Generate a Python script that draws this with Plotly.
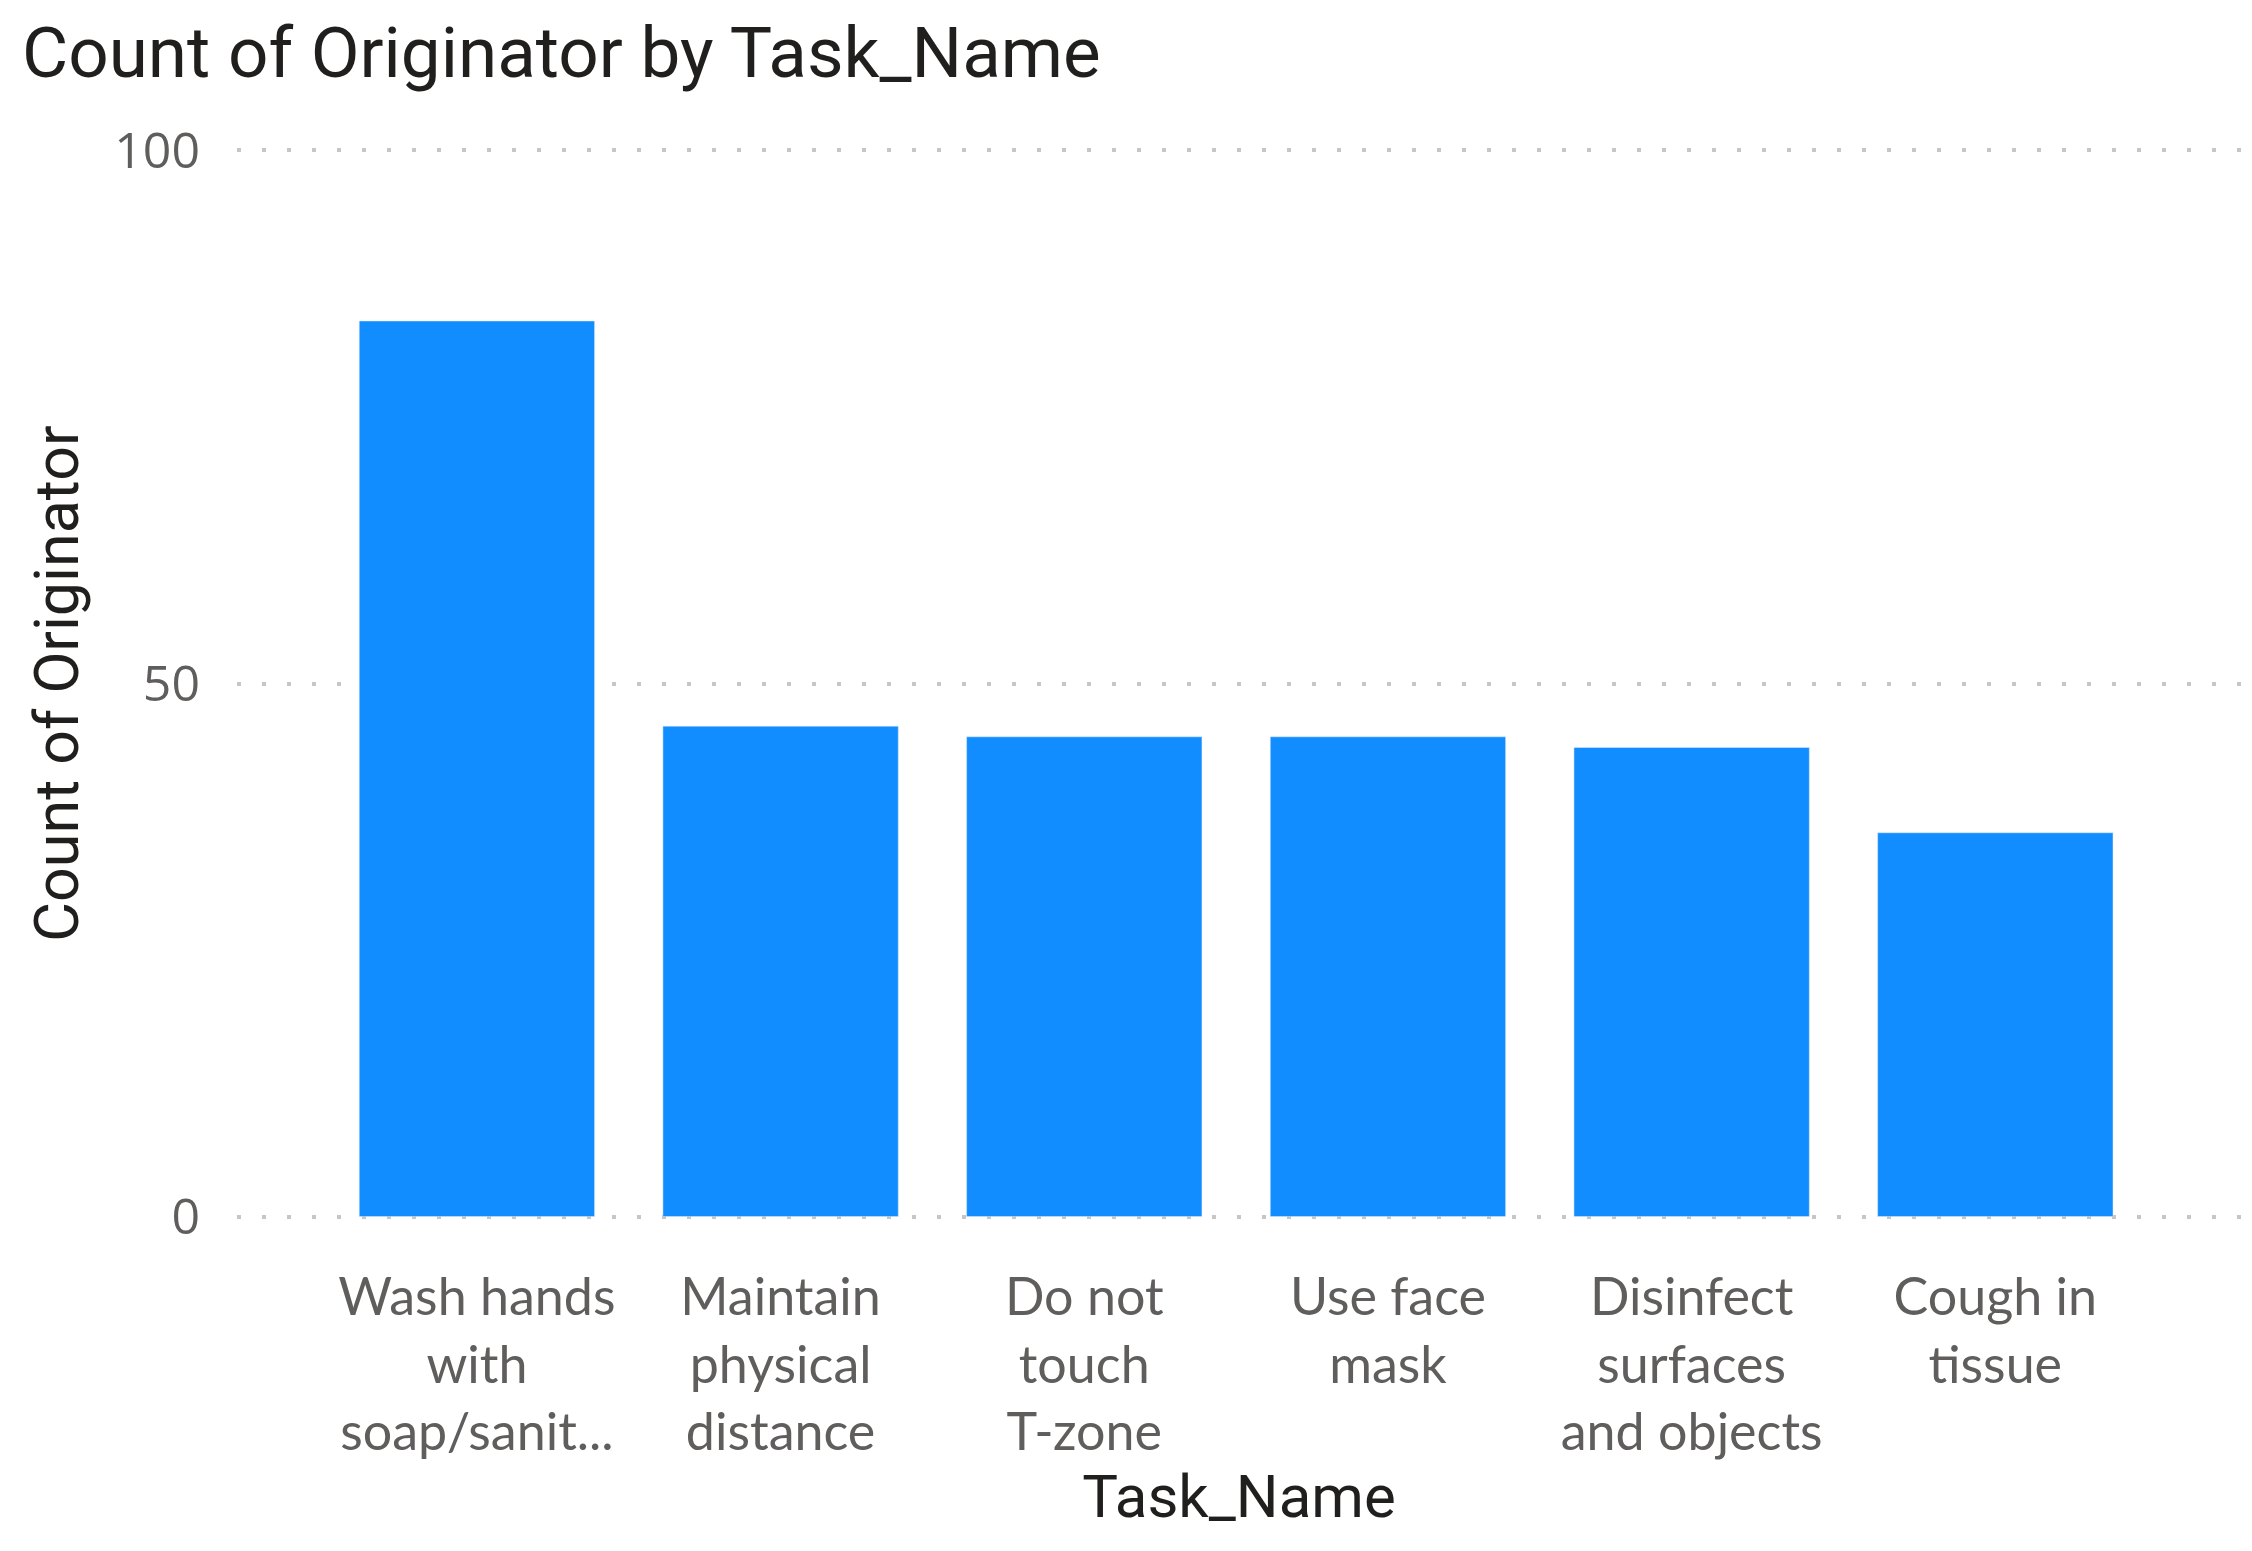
import plotly.graph_objects as go

task_names = [
    "Wash hands<br>with<br>soap/sanit...",
    "Maintain<br>physical<br>distance",
    "Do not<br>touch<br>T-zone",
    "Use face<br>mask",
    "Disinfect<br>surfaces<br>and objects",
    "Cough in<br>tissue",
]
originator_counts = [84, 46, 45, 45, 44, 36]
y_ticks = [0, 50, 100]

fig = go.Figure()

fig.add_trace(go.Bar(
    x=task_names,
    y=originator_counts,
    marker_color='#118DFF',
    width=0.775,
    showlegend=False
))

fig.update_layout(
    width=2252, height=1551,
    paper_bgcolor='white', plot_bgcolor='white',
    margin=dict(l=229, r=19, t=136, b=336),
    title=dict(
        text='Count of Originator by Task_Name',
        font=dict(family='Roboto', size=71, color='#201F1E'),
        xref='container', x=14/2252, xanchor='left',
        yref='container', y=1 - 19/1551, yanchor='top'
    ),
    font=dict(family='Segoe UI, Lato', color='#605E5C'),
)

fig.update_xaxes(
    range=[-0.79, 5.809],
    tickfont=dict(size=52, color='#605E5C', family='Segoe UI, Lato'),
    ticklabelstandoff=39,
    showgrid=False, showline=False, zeroline=False,
    title=dict(text='Task_Name', font=dict(family='Roboto', size=60, color='#201F1E'), standoff=2)
)

fig.update_yaxes(
    range=[-0.6, 100.6],
    tickvals=y_ticks,
    tickfont=dict(size=50, color='#605E5C', family='Segoe UI, Open Sans'),
    ticklabelstandoff=36,
    showgrid=True, gridcolor='#C8C6C4', griddash='4px,21px', gridwidth=4,
    zeroline=False, showline=False,
    title=dict(text='Count of Originator', font=dict(family='Roboto', size=61, color='#201F1E'), standoff=15)
)

fig.write_html("out.html")
